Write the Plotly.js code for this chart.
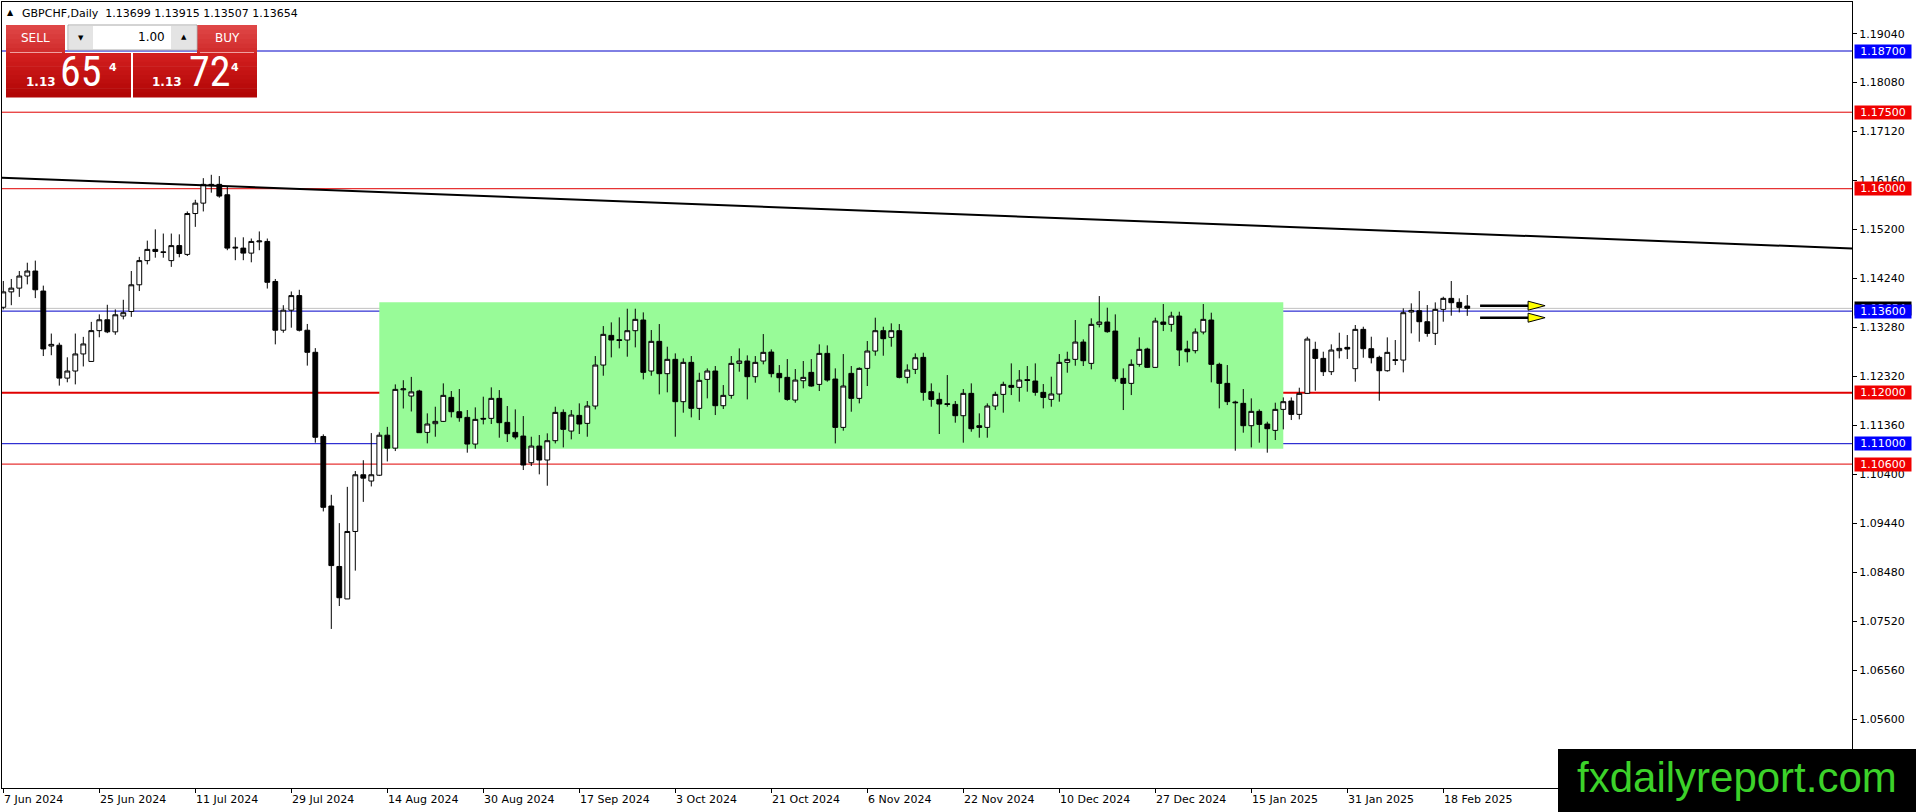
<!DOCTYPE html>
<html><head><meta charset="utf-8">
<script src="https://cdn.plot.ly/plotly-3.0.1.min.js"></script>
<style>html,body{margin:0;padding:0;background:#fff;overflow:hidden;} #chart{width:1916px;height:812px;}</style>
</head><body><div id="chart"></div>
<script>
// ---------------- DATA ----------------
const symbol = 'GBPCHF,Daily';
const lastOHLC = [1.13699, 1.13915, 1.13507, 1.13654];

const openP = [
1.13675,1.13977,1.14051,1.14288,1.14386,1.13993,1.12915,1.12931,1.12286,1.12425,
1.12760,1.12613,1.13217,1.13430,1.13193,1.13503,1.13593,1.14116,1.14590,1.14810,
1.14761,1.14590,1.14884,1.14712,1.15513,1.15717,1.16085,1.16085,1.15881,1.14835,
1.14835,1.14737,1.14958,1.14966,1.14181,1.13225,1.13618,1.13904,1.13225,1.12792,
1.11142,1.09778,1.08593,1.07956,1.09279,1.10391,1.10268,1.10382,1.11167,1.10913,
1.12057,1.11935,1.12033,1.11222,1.11392,1.11438,1.11908,1.11627,1.11516,1.10993,
1.11497,1.11497,1.11889,1.11418,1.11222,1.11150,1.10627,1.10954,1.10680,1.11059,
1.11614,1.11248,1.11555,1.11399,1.11739,1.12542,1.13124,1.13039,1.13033,1.13216,
1.13425,1.12425,1.13007,1.12373,1.12654,1.11824,1.12595,1.11693,1.12261,1.12425,
1.11745,1.11948,1.12575,1.12621,1.12314,1.12621,1.12797,1.12379,1.12301,1.11856,
1.12235,1.12399,1.12163,1.12771,1.12268,1.11320,1.12379,1.11889,1.12477,1.12817,
1.13216,1.13085,1.13216,1.12301,1.12458,1.12693,1.12020,1.11869,1.11784,1.11771,
1.11549,1.11987,1.11353,1.11320,1.11739,1.11967,1.12144,1.12105,1.12255,1.12229,
1.12007,1.11869,1.11974,1.12595,1.12654,1.12993,1.12575,1.13340,1.13386,1.13209,
1.12281,1.12183,1.12556,1.12856,1.12497,1.13386,1.13340,1.13503,1.12856,1.12824,
1.13190,1.13425,1.12556,1.12183,1.11817,1.11791,1.11353,1.11634,1.11386,1.11261,
1.11673,1.11837,1.11575,1.11987,1.12850,1.12673,1.12412,1.12824,1.12889,1.12471,
1.13242,1.12863,1.12693,1.12431,1.12647,1.12640,1.13582,1.13608,1.13392,1.13163,
1.13634,1.13850,1.13771,1.13699];

const highP = [
1.14190,1.14230,1.14386,1.14549,1.14590,1.14100,1.13160,1.12980,1.12694,1.13160,
1.13095,1.13389,1.13536,1.13724,1.13634,1.13822,1.14386,1.14663,1.14982,1.15203,
1.15121,1.15121,1.15105,1.15554,1.15783,1.16207,1.16273,1.16248,1.16044,1.15047,
1.15047,1.15023,1.15162,1.15023,1.14230,1.13716,1.13985,1.14018,1.13348,1.12874,
1.11183,1.09998,1.09443,1.10154,1.10464,1.10676,1.11208,1.11224,1.11330,1.12163,
1.12245,1.12310,1.12057,1.11595,1.11725,1.12183,1.12033,1.12072,1.11660,1.11712,
1.11922,1.12105,1.12052,1.11739,1.11673,1.11542,1.11137,1.11170,1.11203,1.11725,
1.11673,1.11660,1.11791,1.11837,1.12719,1.13307,1.13379,1.13477,1.13647,1.13647,
1.13575,1.13229,1.13346,1.12902,1.12771,1.12673,1.12719,1.12392,1.12477,1.12523,
1.12150,1.12719,1.12869,1.12732,1.12719,1.13150,1.12850,1.12542,1.12660,1.12464,
1.12621,1.12660,1.12948,1.12928,1.12477,1.12758,1.12523,1.12497,1.13013,1.13471,
1.13294,1.13360,1.13346,1.12556,1.12771,1.12784,1.12183,1.12000,1.12346,1.11837,
1.12072,1.12183,1.11595,1.11791,1.12020,1.12216,1.12575,1.12444,1.12523,1.12575,
1.12170,1.12314,1.12758,1.12804,1.13425,1.13046,1.13458,1.13895,1.13667,1.13536,
1.12477,1.12654,1.13085,1.12882,1.13471,1.13739,1.13588,1.13588,1.13020,1.13261,
1.13739,1.13569,1.12588,1.12542,1.11843,1.12072,1.11889,1.11673,1.11431,1.11804,
1.11908,1.11908,1.12098,1.13098,1.13000,1.12804,1.12948,1.13176,1.13131,1.13327,
1.13294,1.13098,1.12725,1.13085,1.13033,1.13654,1.13752,1.13993,1.13719,1.13771,
1.13882,1.14190,1.13850,1.13915];

const lowP = [
1.13634,1.13716,1.13879,1.14124,1.13855,1.12719,1.12735,1.12139,1.12204,1.12163,
1.12515,1.12613,1.13087,1.13168,1.13136,1.13438,1.13487,1.13993,1.14516,1.14647,
1.14647,1.14467,1.14655,1.14680,1.15252,1.15554,1.15922,1.15824,1.14794,1.14598,
1.14598,1.14557,1.14794,1.14042,1.12948,1.13176,1.13275,1.13201,1.12531,1.11020,
1.09672,1.07368,1.07817,1.07956,1.08511,1.09859,1.10162,1.10366,1.10652,1.10856,
1.11690,1.11632,1.11216,1.11007,1.11137,1.11425,1.11516,1.11431,1.10824,1.10902,
1.11379,1.11386,1.11118,1.11033,1.11085,1.10484,1.10562,1.10399,1.10176,1.11006,
1.10928,1.11085,1.11190,1.11137,1.11673,1.12333,1.12693,1.12869,1.12706,1.12889,
1.12261,1.12333,1.11967,1.12007,1.11137,1.11608,1.11516,1.11464,1.11889,1.11562,
1.11680,1.11882,1.12412,1.11869,1.12196,1.12556,1.12301,1.12007,1.11843,1.11804,
1.12085,1.12118,1.12033,1.12216,1.11006,1.11255,1.11627,1.11791,1.12131,1.12725,
1.12725,1.12902,1.12281,1.12183,1.12366,1.11843,1.11725,1.11190,1.11725,1.11412,
1.11020,1.11235,1.11118,1.11118,1.11660,1.11608,1.11954,1.11824,1.12020,1.11941,
1.11693,1.11725,1.11824,1.12392,1.12529,1.12523,1.12458,1.13281,1.13176,1.12216,
1.11660,1.11954,1.12510,1.12484,1.12490,1.13209,1.13196,1.12523,1.12595,1.12771,
1.13144,1.12203,1.11693,1.11758,1.10863,1.11216,1.10928,1.11020,1.10824,1.11072,
1.11281,1.11464,1.11477,1.11974,1.12039,1.12327,1.12346,1.12673,1.12660,1.12216,
1.12686,1.12575,1.11843,1.12412,1.12542,1.12399,1.13163,1.13000,1.13098,1.12935,
1.13392,1.13510,1.13575,1.13507];

const closeP = [
1.13977,1.14051,1.14288,1.14386,1.14018,1.12858,1.12948,1.12286,1.12425,1.12760,
1.12956,1.13217,1.13430,1.13193,1.13528,1.13569,1.14116,1.14590,1.14810,1.14770,
1.14753,1.14884,1.14729,1.15513,1.15717,1.16085,1.16060,1.15856,1.14835,1.14851,
1.14737,1.14966,1.14974,1.14165,1.13225,1.13618,1.13904,1.13225,1.12792,1.11126,
1.09753,1.08610,1.07980,1.09279,1.10391,1.10325,1.10391,1.11167,1.10913,1.12065,
1.12074,1.12016,1.11216,1.11386,1.11438,1.11948,1.11627,1.11510,1.10993,1.11477,
1.11484,1.11889,1.11412,1.11196,1.11131,1.10582,1.10954,1.10680,1.11059,1.11614,
1.11281,1.11562,1.11386,1.11739,1.12542,1.13144,1.13033,1.13026,1.13216,1.13438,
1.12399,1.13007,1.12373,1.12654,1.11824,1.12595,1.11693,1.12242,1.12425,1.11745,
1.11948,1.12575,1.12621,1.12314,1.12595,1.12791,1.12373,1.12294,1.11869,1.12248,
1.12301,1.12131,1.12771,1.12248,1.11320,1.12131,1.11889,1.12477,1.12817,1.13216,
1.13059,1.13216,1.12301,1.12444,1.12686,1.12007,1.11869,1.11778,1.11771,1.11549,
1.11987,1.11294,1.11320,1.11739,1.11967,1.12163,1.12105,1.12248,1.12242,1.12007,
1.11908,1.11974,1.12595,1.12654,1.12993,1.12627,1.13340,1.13386,1.13196,1.12275,
1.12183,1.12556,1.12850,1.12497,1.13405,1.13340,1.13503,1.12837,1.12804,1.13190,
1.13438,1.12556,1.12183,1.11824,1.11804,1.11353,1.11634,1.11379,1.11294,1.11673,
1.11824,1.11575,1.11987,1.13052,1.12673,1.12412,1.12837,1.12869,1.12856,1.13242,
1.12863,1.12686,1.12431,1.12791,1.12634,1.13569,1.13614,1.13392,1.13163,1.13634,
1.13850,1.13765,1.13673,1.13654];

const dateTickIdx  = [0,12,24,36,48,60,72,84,96,108,120,132,144,156,168,180];
const dateTickText = ['7 Jun 2024','25 Jun 2024','11 Jul 2024','29 Jul 2024','14 Aug 2024','30 Aug 2024',
  '17 Sep 2024','3 Oct 2024','21 Oct 2024','6 Nov 2024','22 Nov 2024','10 Dec 2024','27 Dec 2024',
  '15 Jan 2025','31 Jan 2025','18 Feb 2025'];

const priceTicks = [1.05600,1.06560,1.07520,1.08480,1.09440,1.10400,1.11360,1.12320,
  1.13280,1.14240,1.15200,1.16160,1.17120,1.18080,1.19040];

const levelPrices = [1.18700, 1.17500, 1.16000, 1.13600, 1.12000, 1.11000, 1.10600];
const levelKinds  = ['blue','red','red','blue','red','blue','red'];
const bidPrice = 1.13654;

const zoneBars   = [47, 160];
const zonePrices = [1.10902, 1.13772];
const trendBars   = [-1, 232];
const trendPrices = [1.16222, 1.14824];
const arrowBars   = [184.6, 190.6];
const arrowPrices = [1.13706, 1.13471];

const lotSize = '1.00';
const sellQuote = ['1.13', '65', '4'];
const buyQuote  = ['1.13', '72', '4'];
const watermark = 'fxdailyreport.com';

// ---------------- LAYOUT HELPERS ----------------
const FW = 1916, FH = 812, ML = 2, MR = 64, MT = 2, MB = 24;
const PW = FW - ML - MR, PH = FH - MT - MB;
const px = v => (v - ML) / PW;
const py = v => 1 - (v - MT) / PH;
const FONT = 'DejaVu Sans, Verdana, sans-serif';

const colorOf = {blue: '#0000c8', red: '#e00000'};
const labelBg = {blue: '#0000ff', red: '#f00000'};

const barIndex = openP.map((_, i) => i);

const shapes = [];
const annotations = [];

// green range box
shapes.push({type:'rect', xref:'x', yref:'y', x0:zoneBars[0], x1:zoneBars[1], y0:zonePrices[0], y1:zonePrices[1],
  fillcolor:'#98fb98', line:{width:0}, layer:'below'});
// bid line
shapes.push({type:'line', xref:'paper', x0:0, x1:1, yref:'y', y0:bidPrice, y1:bidPrice,
  line:{color:'#c0c0c0', width:1}, layer:'below'});
// horizontal levels
levelPrices.forEach((p, i) => {
  shapes.push({type:'line', xref:'paper', x0:0, x1:1, yref:'y', y0:p, y1:p,
    line:{color:colorOf[levelKinds[i]], width: (i === 4 ? 2 : 1)}, layer:'below'});
});
// arrows
arrowPrices.forEach(p => {
  shapes.push({type:'line', xref:'x', yref:'y', x0:arrowBars[0], x1:arrowBars[1], y0:p, y1:p,
    line:{color:'#000', width:2.5}, layer:'above'});
  shapes.push({type:'path', xref:'x', yref:'y', xsizemode:'pixel', ysizemode:'pixel',
    xanchor:arrowBars[1], yanchor:p, path:'M0,4.5 L17,0 L0,-4.5 Z',
    fillcolor:'#ffff00', line:{color:'#000', width:1}, layer:'above'});
});

// right-axis level labels
annotations.push({xref:'paper', x:1, xanchor:'left', xshift:2, yref:'y', y:bidPrice, yanchor:'middle',
  text:bidPrice.toFixed(5), showarrow:false, bgcolor:'#000', width:56, height:13, borderpad:0, align:'center',
  font:{family:FONT, size:11, color:'#fff'}});
levelPrices.forEach((p, i) => {
  annotations.push({xref:'paper', x:1, xanchor:'left', xshift:2, yref:'y', y:p, yanchor:'middle',
    text:p.toFixed(5), showarrow:false, bgcolor:labelBg[levelKinds[i]], width:56, height:13, borderpad:0, align:'center',
    font:{family:FONT, size:11, color:'#fff'}});
});

// date labels (left aligned at tick like MT4)
dateTickIdx.forEach((idx, i) => {
  annotations.push({xref:'x', x:idx, xanchor:'left', yref:'paper', y:0, yanchor:'middle', yshift:-11.5,
    text:dateTickText[i], showarrow:false, borderpad:0, font:{family:FONT, size:11, color:'#000'}});
});

// header
annotations.push({xref:'paper', yref:'paper', x:px(10), y:py(12.5), xanchor:'center', yanchor:'middle',
  text:'\u25B2', showarrow:false, font:{family:FONT, size:8, color:'#000'}});
annotations.push({xref:'paper', yref:'paper', x:px(21), y:py(13), xanchor:'left', yanchor:'middle', borderpad:0,
  text: symbol + '\u00a0\u00a0' + lastOHLC.map(v => v.toFixed(5)).join(' '), showarrow:false,
  font:{family:FONT, size:11, color:'#000'}});

// trading widget
function hexToRgb(h){ return [parseInt(h.substr(1,2),16), parseInt(h.substr(3,2),16), parseInt(h.substr(5,2),16)]; }
function mix(a, b, t){ const A = hexToRgb(a), B = hexToRgb(b);
  return 'rgb(' + A.map((v,k) => Math.round(v + (B[k]-v)*t)).join(',') + ')'; }
function rectPx(x0, y0, x1, y1, fill, lc, lw){
  shapes.push({type:'rect', xref:'paper', yref:'paper', x0:px(x0), x1:px(x1), y0:py(y1), y1:py(y0),
    fillcolor:fill, line:{color:lc || fill, width:lw || 0}, layer:'above'});
}
function gradPx(x0, y0, x1, y1, c0, c1, n){
  const h = (y1 - y0) / n;
  for (let k = 0; k < n; k++) rectPx(x0, y0 + k*h, x1, y0 + (k+1)*h + 0.6, mix(c0, c1, (k+0.5)/n));
}
function linePx(x0, y0, x1, y1, color, w){
  shapes.push({type:'line', xref:'paper', yref:'paper', x0:px(x0), x1:px(x1), y0:py(y0), y1:py(y1),
    line:{color:color, width:w}, layer:'above'});
}
function textPx(x, y, text, size, color, family, anchor){
  annotations.push({xref:'paper', yref:'paper', x:px(x), y:py(y), xanchor:anchor || 'center', yanchor:'middle',
    text:text, showarrow:false, borderpad:0, font:{family:family || FONT, size:size, color:color}});
}

// tabs
gradPx(6, 25, 65, 53, '#e04848', '#d02a2a', 6);
gradPx(197, 25, 257, 53, '#e04848', '#d02a2a', 6);
// price boxes
gradPx(6, 53, 131, 97, '#d42020', '#b00404', 10);
gradPx(133, 53, 257, 97, '#d42020', '#b00404', 10);
linePx(10, 52.5, 62, 52.5, '#f0a0a0', 1);
linePx(200, 52.5, 254, 52.5, '#f0a0a0', 1);
// lot control
rectPx(68, 25, 197, 50, '#ffffff', '#a8a8a8', 1);
rectPx(69, 26, 93, 49, '#e4e4e4');
rectPx(171, 26, 196, 49, '#e4e4e4');
textPx(80.5, 38, '\u25BC', 7, '#000');
textPx(184, 37, '\u25B2', 7, '#000');
textPx(166, 37.5, lotSize, 12, '#000', FONT, 'right');
textPx(35.5, 38, 'SELL', 12, '#ffffff');
textPx(227, 38, 'BUY', 12, '#ffffff');
const BIG = 'Liberation Sans Narrow, Roboto Condensed, Arial Narrow, Liberation Sans, sans-serif';
textPx(41, 82, '<b>' + sellQuote[0] + '</b>', 12, '#ffffff');
textPx(80.5, 72, sellQuote[1], 42, '#ffffff', BIG);
textPx(113, 67, '<b>' + sellQuote[2] + '</b>', 11, '#ffffff');
textPx(167, 82, '<b>' + buyQuote[0] + '</b>', 12, '#ffffff');
textPx(209.5, 72, buyQuote[1], 42, '#ffffff', BIG);
textPx(235.5, 67, '<b>' + buyQuote[2] + '</b>', 11, '#ffffff');

// watermark
rectPx(1558, 749, 1920, 815, '#000000');
textPx(1736.5, 777, watermark, 42, '#3cd22a', 'Liberation Sans, Arial, sans-serif');

// ---------------- TRACES ----------------
const candles = {
  type:'candlestick', x:barIndex, open:openP, high:highP, low:lowP, close:closeP,
  increasing:{line:{color:'#000000', width:1}, fillcolor:'#ffffff'},
  decreasing:{line:{color:'#000000', width:1}, fillcolor:'#000000'},
  whiskerwidth:0, hoverinfo:'skip', showlegend:false
};
const trend = {
  type:'scatter', mode:'lines', x:trendBars, y:trendPrices,
  line:{color:'#000000', width:2}, hoverinfo:'skip', showlegend:false
};

const layout = {
  width:FW, height:FH,
  margin:{l:ML, r:MR, t:MT, b:MB, pad:0},
  paper_bgcolor:'#ffffff', plot_bgcolor:'#ffffff',
  font:{family:FONT, size:11, color:'#000'},
  showlegend:false,
  boxgap:0.4, boxgroupgap:0,
  xaxis:{type:'linear', range:[-0.1625, 231.09], showgrid:false, zeroline:false,
    showline:true, mirror:true, linecolor:'#000', linewidth:1,
    ticks:'outside', ticklen:4, tickcolor:'#000', tickwidth:1,
    tickmode:'array', tickvals:dateTickIdx, showticklabels:false,
    rangeslider:{visible:false}, fixedrange:true},
  yaxis:{side:'right', range:[1.04249, 1.19661], showgrid:false, zeroline:false,
    showline:true, mirror:true, linecolor:'#000', linewidth:1,
    ticks:'outside', ticklen:4, tickcolor:'#000', tickwidth:1,
    tickmode:'array', tickvals:priceTicks, ticktext:priceTicks.map(v => v.toFixed(5)),
    tickfont:{family:FONT, size:11, color:'#000'}, fixedrange:true},
  shapes:shapes,
  annotations:annotations
};

Plotly.newPlot('chart', [trend, candles], layout, {staticPlot:true, displayModeBar:false});
</script>
</body></html>
